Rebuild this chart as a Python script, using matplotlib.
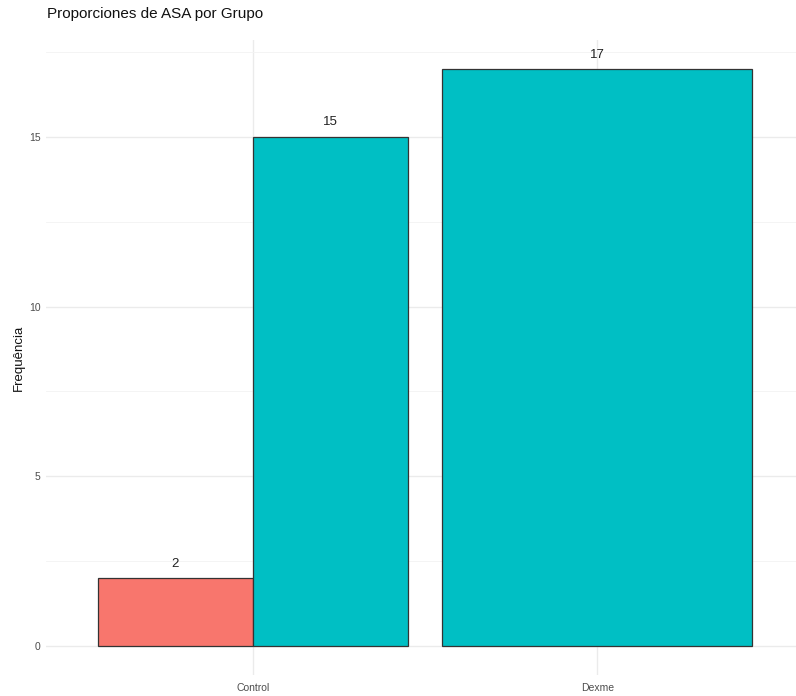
import matplotlib
matplotlib.use("Agg")
import matplotlib.pyplot as plt
from matplotlib.ticker import MultipleLocator

plt.rcParams['font.family'] = ['Liberation Sans', 'DejaVu Sans']

# Counts by group and ASA class
grupos = ["Control", "Dexme"]
asa_clases = ["I", "II"]
conteos = {
    "I": [2, 0],
    "II": [15, 17],
}
colores = {"I": "#F8766D", "II": "#00BFC4"}
y_ticks = [0, 5, 10, 15]

fig = plt.figure(figsize=(7.96, 6.96), dpi=100)
ax = fig.add_axes([46 / 796, 21 / 696, 758 / 796, 635 / 696])

total_width = 0.9
for gi, grupo in enumerate(grupos):
    presentes = [c for c in asa_clases if conteos[c][gi] > 0]
    n = len(presentes)
    w = total_width / n
    start = (gi + 1) - total_width / 2
    for k, clase in enumerate(presentes):
        val = conteos[clase][gi]
        xc = start + w * (k + 0.5)
        ax.bar(xc, val, width=w, color=colores[clase], edgecolor="#333333",
               linewidth=0.9, zorder=3)
        ax.annotate(str(val), (xc, val), xytext=(0, 6), textcoords="offset points",
                    ha="center", va="bottom", fontsize=9.5, color="#222222", zorder=4)

ymax = 17
ax.set_ylim(-0.05 * ymax, ymax * 1.05)
ax.set_xlim(0.4, 2.6)
ax.set_xticks([1, 2])
ax.set_xticklabels(grupos)
ax.set_yticks(y_ticks)
ax.yaxis.set_minor_locator(MultipleLocator(2.5))

ax.grid(which="major", color="#EBEBEB", linewidth=1.0, zorder=0)
ax.grid(which="minor", axis="y", color="#F3F3F3", linewidth=0.6, zorder=0)
for s in ax.spines.values():
    s.set_visible(False)
ax.tick_params(which="both", length=0)
ax.tick_params(axis="both", labelsize=7.5, labelcolor="#4D4D4D", pad=4)
ax.tick_params(axis="x", pad=6)

ax.set_ylabel("Frequência", fontsize=9.5, color="#111111", labelpad=3)
fig.text(47 / 796, 1 - 14 / 696, "Proporciones de ASA por Grupo", fontsize=11,
         color="#111111", ha="left", va="center")

fig.savefig("out.png", dpi=100)
